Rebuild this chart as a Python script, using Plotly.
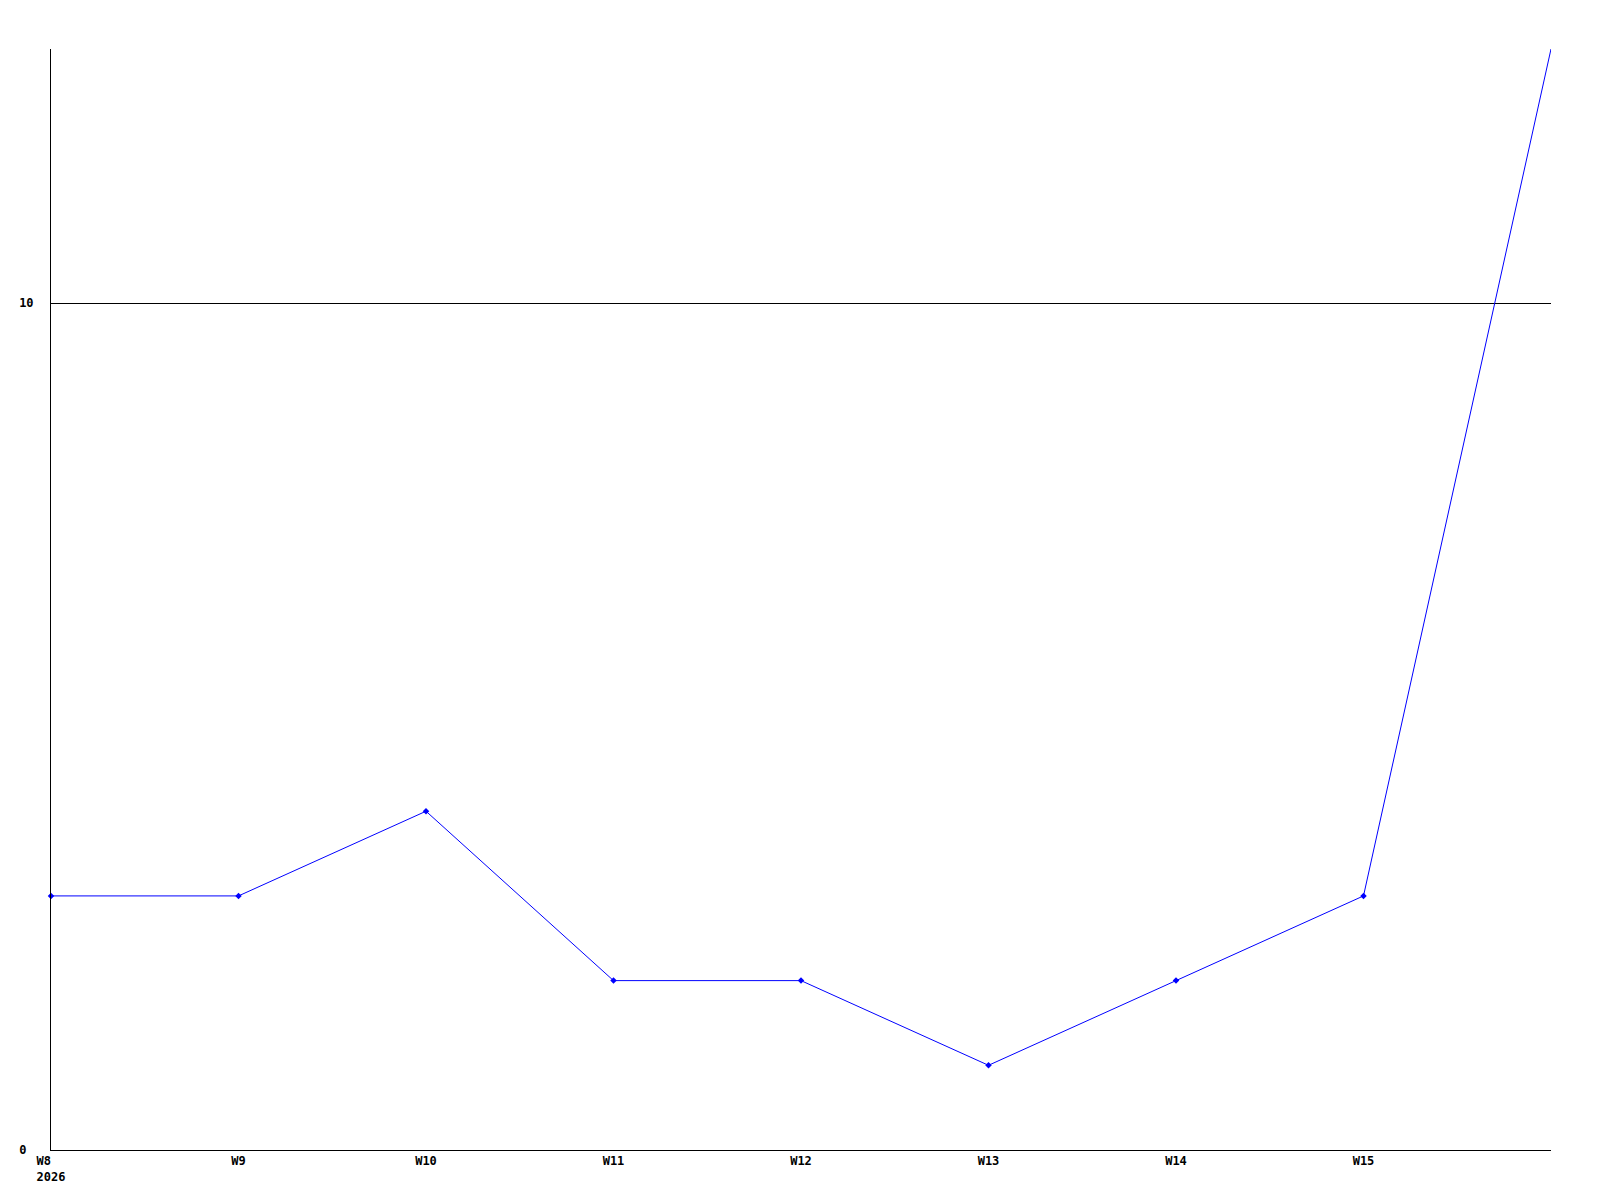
import plotly.graph_objects as go

weeks = [8, 9, 10, 11, 12, 13, 14, 15, 16]
values = [3, 3, 4, 2, 2, 1, 2, 3, 13]
tick_weeks = [8, 9, 10, 11, 12, 13, 14, 15]
tick_labels = ["W8\u00a0\u00a0<br>2026", "W9", "W10", "W11", "W12", "W13", "W14", "W15"]
y_ticks = [0, 10]
y_labels = ["0\u00a0", "10"]

fig = go.Figure()
fig.add_trace(
    go.Scatter(
        x=weeks,
        y=values,
        mode="lines",
        line=dict(color="#0000ff", width=1),
    )
)
# the last point sits on the top edge and has no visible marker
fig.add_trace(
    go.Scatter(
        x=weeks[:-1],
        y=values[:-1],
        mode="markers",
        marker=dict(color="#0000ff", size=5, symbol="diamond"),
        cliponaxis=False,
    )
)

tick_font = dict(family="DejaVu Sans Mono", size=12, color="black", weight="bold")

# page body adds an 8px offset, so margins are trimmed on top/left
fig.update_layout(
    width=1600,
    height=1200,
    plot_bgcolor="white",
    paper_bgcolor="white",
    showlegend=False,
    margin=dict(l=43, r=57, t=41, b=58, pad=0),
)
fig.update_xaxes(
    range=[8, 16],
    tickvals=tick_weeks,
    ticktext=tick_labels,
    showgrid=False,
    zeroline=False,
    showline=True,
    linecolor="black",
    linewidth=1,
    ticks="",
    tickfont=tick_font,
    automargin=False,
)
fig.update_yaxes(
    range=[0, 13],
    tickvals=y_ticks,
    ticktext=y_labels,
    showgrid=True,
    gridcolor="black",
    gridwidth=1,
    zeroline=False,
    showline=True,
    linecolor="black",
    linewidth=1,
    ticks="outside",
    ticklen=14,
    tickcolor="white",
    tickfont=tick_font,
    automargin=False,
)

fig.write_html("out.html")
